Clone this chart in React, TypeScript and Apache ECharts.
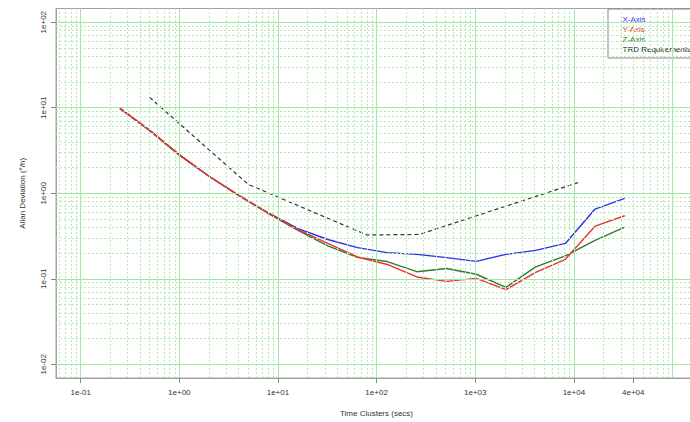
import React, { useEffect, useRef } from "react";
import * as echarts from "echarts";

// ---- data ----
const TAU = [0.25, 0.5, 1, 2, 4, 8, 16, 32, 64, 128, 256, 512, 1024, 2048, 4096, 8192, 16384, 32768];
const X_AXIS = [9.82, 5.43, 2.81, 1.58, 0.943, 0.589, 0.386, 0.288, 0.231, 0.202, 0.193, 0.177, 0.16, 0.193, 0.215, 0.259, 0.653, 0.869];
const Y_AXIS = [9.82, 5.43, 2.81, 1.58, 0.943, 0.587, 0.376, 0.259, 0.18, 0.147, 0.105, 0.0933, 0.101, 0.0748, 0.119, 0.169, 0.412, 0.546];
const Z_AXIS = [9.82, 5.43, 2.81, 1.58, 0.943, 0.579, 0.368, 0.242, 0.178, 0.159, 0.121, 0.132, 0.113, 0.0795, 0.138, 0.185, 0.281, 0.401];
const TRD_TAU = [0.5, 5, 80, 270, 11000];
const TRD_VAL = [13.2, 1.27, 0.325, 0.33, 1.33];

const LEGEND_NAMES = ["X-Axis", "Y-Axis", "Z-Axis", "TRD Requirements"];
const X_TICKS = [0.1, 1, 10, 100, 1000, 10000, 40000];
const Y_TICKS = [0.01, 0.1, 1, 10, 100];
const GRID_MANTISSAS = [1, 2, 3, 4, 5, 6, 7, 8, 9];
const GRID_DECADES = [-3, -2, -1, 0, 1, 2, 3, 4, 5];

const X_MIN = Math.pow(10, -1.25);
const X_MAX = Math.pow(10, 5.248);
const Y_MIN = Math.pow(10, -2.16);
const Y_MAX = Math.pow(10, 2.16);

const BLUE = "#2f2fea";
const RED = "#ec3030";
const GREEN = "#2e7a30";
const BLACK = "#222222";
const LEGEND_COLORS = [BLUE, RED, GREEN, BLACK];
const FONT = "Liberation Sans, Arial, sans-serif";

function fmtSci(v: number): string {
  const e = Math.floor(Math.log10(v) + 1e-9);
  const m = Math.round(v / Math.pow(10, e));
  return `${m}e${e < 0 ? "-" : "+"}${String(Math.abs(e)).padStart(2, "0")}`;
}

function gridValues(min: number, max: number) {
  const out: { v: number; major: boolean }[] = [];
  GRID_DECADES.forEach((d) => {
    GRID_MANTISSAS.forEach((m) => {
      const v = m * Math.pow(10, d);
      if (v > min * 1.001 && v < max * 0.999) out.push({ v, major: m === 1 });
    });
  });
  return out;
}

export default function App() {
  const ref = useRef<HTMLDivElement>(null);
  useEffect(() => {
    if (!ref.current) return;
    const chart = echarts.init(ref.current, null, { renderer: "svg", width: 720, height: 422 });
    const majorStyle = { color: "#a4e6a4", width: 1, type: "solid" as const };
    const minorStyle = { color: "#b2ecb2", width: 1, type: [2, 2] as any };
    const gridData: any[] = [];
    gridValues(X_MIN, X_MAX).forEach((g) =>
      gridData.push({ xAxis: g.v, lineStyle: g.major ? majorStyle : minorStyle })
    );
    gridValues(Y_MIN, Y_MAX).forEach((g) =>
      gridData.push({ yAxis: g.v, lineStyle: g.major ? majorStyle : minorStyle })
    );
    const mk = (arr: number[]) => TAU.map((t, i) => [t, arr[i]]);
    chart.setOption({
      animation: false,
      backgroundColor: "#ffffff",
      grid: {
        left: 56,
        top: 8.5,
        width: 641,
        height: 373.5,
        show: true,
        borderColor: "#a0a0a0",
        borderWidth: 1,
        backgroundColor: "transparent",
      },
      graphic: [
        {
          type: "group",
          left: 607.5,
          top: 8.5,
          z: 100,
          children: [
            {
              type: "rect",
              shape: { x: 0, y: 0, width: 96, height: 49 },
              style: { fill: "#ffffff", stroke: "#888888", lineWidth: 1 },
            },
            ...LEGEND_NAMES.map((n, i) => ({
              type: "text",
              x: 14.5,
              y: 10.5 + i * 10,
              style: {
                text: n,
                fill: LEGEND_COLORS[i],
                font: `8px ${FONT}`,
                textVerticalAlign: "middle",
                verticalAlign: "middle",
              },
            })),
          ],
        },
      ],
      xAxis: {
        type: "log",
        logBase: 10,
        min: X_MIN,
        max: X_MAX,
        name: "Time Clusters (secs)",
        nameLocation: "middle",
        nameGap: 31,
        nameTextStyle: { fontSize: 8, fontFamily: FONT, color: "#333" },
        axisLine: { show: true, onZero: false, lineStyle: { color: "#a0a0a0", width: 1 } },
        axisTick: { show: true, length: 5, lineStyle: { color: "#888" }, customValues: X_TICKS },
        axisLabel: {
          customValues: X_TICKS,
          formatter: (v: number) => fmtSci(v),
          fontSize: 8,
          fontFamily: FONT,
          color: "#333",
          margin: 10,
        },
        splitLine: { show: false },
        minorTick: { show: false },
      },
      yAxis: {
        type: "log",
        logBase: 10,
        min: Y_MIN,
        max: Y_MAX,
        name: "Allan Deviation (°/h)",
        nameLocation: "middle",
        nameRotate: 90,
        nameGap: 30,
        nameTextStyle: { fontSize: 8, fontFamily: FONT, color: "#333" },
        axisLine: { show: true, onZero: false, lineStyle: { color: "#a0a0a0", width: 1 } },
        axisTick: { show: true, length: 5, lineStyle: { color: "#888" }, customValues: Y_TICKS },
        axisLabel: {
          customValues: Y_TICKS,
          formatter: (v: number) => fmtSci(v),
          rotate: 90,
          fontSize: 8,
          fontFamily: FONT,
          color: "#333",
          margin: 9,
        },
        splitLine: { show: false },
      },
      series: [
        {
          name: "__grid",
          type: "line",
          data: [],
          z: 1,
          silent: true,
          markLine: {
            silent: true,
            symbol: ["none", "none"],
            label: { show: false },
            emphasis: { disabled: true },
            animation: false,
            data: gridData,
          },
        },
        {
          name: "TRD Requirements",
          type: "line",
          data: TRD_TAU.map((t, i) => [t, TRD_VAL[i]]),
          showSymbol: false,
          z: 3,
          lineStyle: { color: "#333333", width: 1.2, type: [4, 3] as any },
          itemStyle: { color: "#333333" },
        },
        {
          name: "X-Axis",
          type: "line",
          data: mk(X_AXIS),
          showSymbol: false,
          z: 3,
          lineStyle: { color: BLUE, width: 1.4 },
          itemStyle: { color: BLUE },
        },
        {
          name: "Z-Axis",
          type: "line",
          data: mk(Z_AXIS),
          showSymbol: false,
          z: 3,
          lineStyle: { color: GREEN, width: 1.4 },
          itemStyle: { color: GREEN },
        },
        {
          name: "Y-Axis",
          type: "line",
          data: mk(Y_AXIS),
          showSymbol: false,
          z: 3,
          lineStyle: { color: RED, width: 1.4 },
          itemStyle: { color: RED },
        },
      ],
    });
    return () => chart.dispose();
  }, []);
  return (
    <div
      style={{
        position: "fixed",
        left: 0,
        top: 0,
        width: 690,
        height: 422,
        overflow: "hidden",
        background: "#fff",
      }}
    >
      <div ref={ref} style={{ width: 720, height: 422 }} />
    </div>
  );
}
